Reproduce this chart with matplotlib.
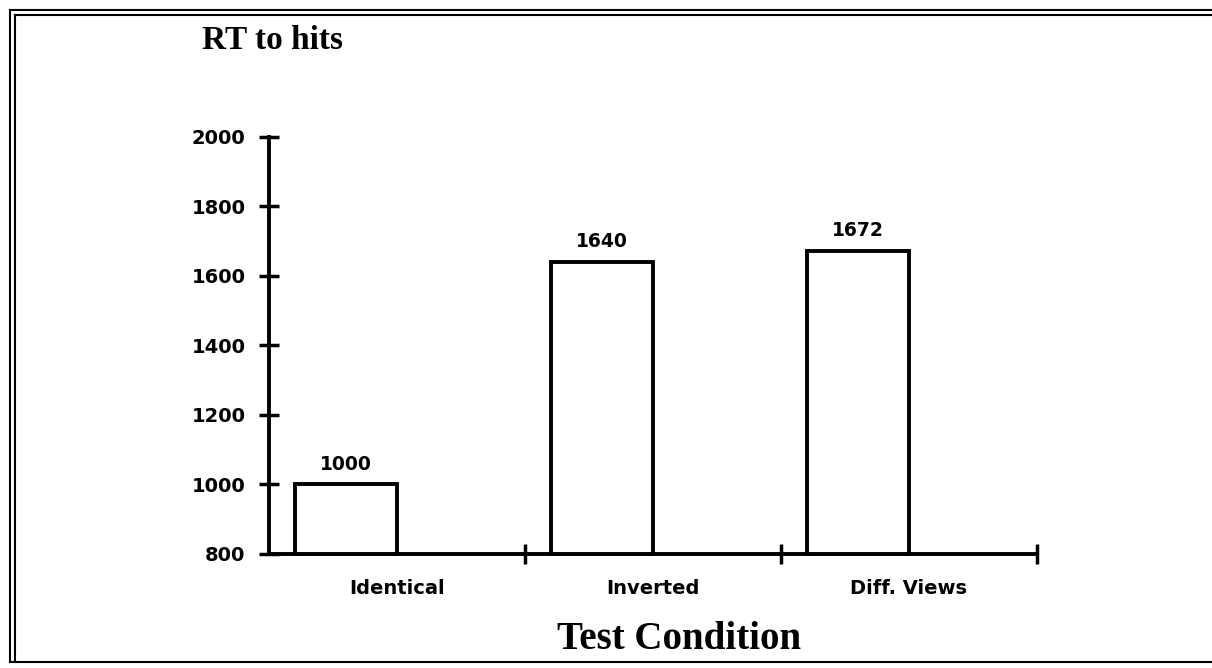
import matplotlib.pyplot as plt
from matplotlib.lines import Line2D

conditions = ["Identical", "Inverted", "Diff. Views"]
rt_hits = [1000, 1640, 1672]
y_ticks = [800, 1000, 1200, 1400, 1600, 1800, 2000]

fig = plt.figure(figsize=(12.12, 6.68), dpi=100)
ax = fig.add_axes([0.2219, 0.1707, 0.6337, 0.6243])

x = list(range(len(conditions)))
bar_left = [i - 0.4 for i in x]
ax.bar(bar_left, [v - 800 for v in rt_hits], width=0.4, bottom=800, align="edge",
       facecolor="white", edgecolor="black", linewidth=2.8, clip_on=False, zorder=3)

for xl, v in zip(bar_left, rt_hits):
    ax.text(xl + 0.2, v + 58, str(v), ha="center", va="center",
            fontsize=13.5, fontweight="bold", family="DejaVu Sans")

ax.set_xlim(-0.5, 2.5)
ax.set_ylim(800, 2000)
for s in ["top", "right"]:
    ax.spines[s].set_visible(False)
for s in ["left", "bottom"]:
    ax.spines[s].set_linewidth(2.8)

ax.set_yticks(y_ticks)
ax.set_yticklabels([str(t) for t in y_ticks], fontsize=14, fontweight="bold",
                   family="DejaVu Sans")
ax.tick_params(axis="y", direction="inout", length=14, width=2.5, pad=10)

# separators between categories, labels at category centres
ax.set_xticks([0.5, 1.5, 2.5])
ax.set_xticklabels([])
ax.tick_params(axis="x", which="major", direction="inout", length=14, width=2.5)
ax.set_xticks(x, minor=True)
ax.set_xticklabels(conditions, minor=True, fontsize=14, fontweight="bold",
                   family="DejaVu Sans")
ax.tick_params(axis="x", which="minor", length=0, pad=18)

fig.text(0.167, 0.94, "RT to hits", fontsize=24, fontweight="bold",
         family="Liberation Serif", va="center", ha="left")
fig.text(0.56, 0.042, "Test Condition", fontsize=28, fontweight="bold",
         family="Liberation Serif", va="center", ha="center")

# double border around the figure
W, H = 1212, 668
def fx(px):
    return px / W
def fy(py):
    return 1 - py / H
for xs, ys, lw in [
    ([fx(10), fx(10)], [fy(10), fy(662)], 1.5),
    ([fx(14.5), fx(14.5)], [fy(15), fy(662)], 1.5),
    ([fx(10), 1.0], [fy(10), fy(10)], 1.5),
    ([fx(14.5), 1.0], [fy(15), fy(15)], 1.5),
    ([fx(10), 1.0], [fy(662), fy(662)], 1.5),
]:
    fig.add_artist(Line2D(xs, ys, color="black", linewidth=lw))

fig.savefig("out.png", dpi=100, facecolor="white")
